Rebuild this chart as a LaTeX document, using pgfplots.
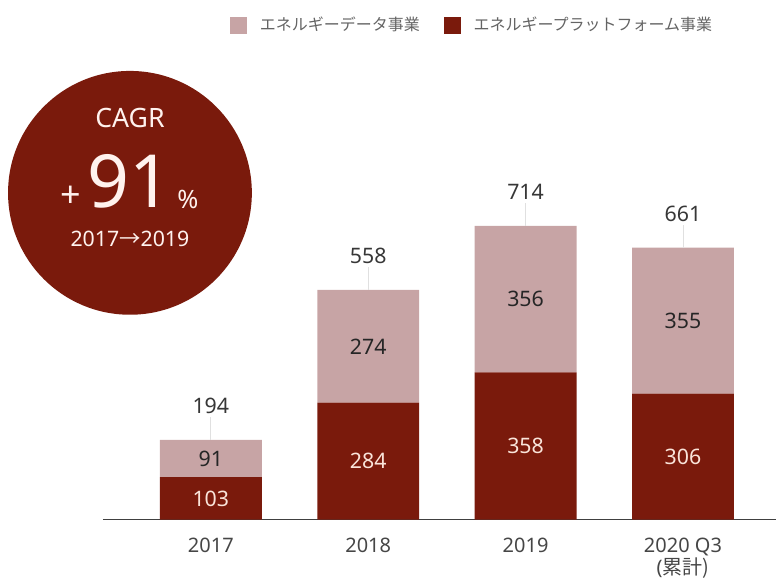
\documentclass[border=0pt]{standalone}
\usepackage{pgfplots}
\usepackage{pgfplotstable}
\pgfplotsset{compat=1.18}
\usepackage{fontspec}
\setmainfont{Noto Sans}
\newfontfamily\jp{Noto Sans CJK JP}
\definecolor{dred}{RGB}{122,26,12}
\definecolor{lred}{RGB}{199,164,165}
\definecolor{inlab}{RGB}{250,228,218}
\definecolor{toplab}{RGB}{55,55,55}
\definecolor{legtxt}{RGB}{100,100,100}
\definecolor{ticktxt}{RGB}{70,70,70}
\definecolor{circtxt}{RGB}{255,242,238}

\pgfplotstableread{
x v
0 103
1 284
2 358
3 306
}\platform
\pgfplotstableread{
x v
0 91
1 274
2 356
3 355
}\data
\pgfplotstableread{
x y e t
0 194 56 194
1 558 56 558
2 714 56 714
3 661 56 661
}\totals

\pgfplotsset{common/.style={
  scale only axis, width=505.5pt, height=390pt,
  xmin=-0.6857, xmax=3.5937, ymin=0, ymax=1262.8,
  /pgf/number format/assume math mode=true,
  clip=false}}

\begin{document}
\begin{tikzpicture}
\begin{axis}[common,
  axis x line*=bottom, axis y line=none,
  x axis line style={draw=black!75, line width=0.9pt, -},
  ybar stacked, bar width=76.5pt,
  xtick={0,1,2,3},
  xticklabels={2017,2018,2019,{2020 Q3\\(\jp 累計)}},
  major tick length=0pt,
  xticklabel style={align=center, text=ticktxt, font=\fontsize{15}{17}\selectfont, yshift=-10pt},
  ytick=\empty,
  legend style={at={(0.1884,0.952)}, anchor=west, draw=none, fill=none,
    legend columns=2, inner sep=0pt,
    font=\jp\fontsize{12}{14}\selectfont, text=legtxt,
    /tikz/every even column/.append style={column sep=16pt}},
]
\addlegendimage{legend image code/.code={\fill[lred] (0pt,-6pt) rectangle (12pt,6pt);}}
\addlegendentry{\hspace{8pt}エネルギーデータ事業}
\addlegendimage{legend image code/.code={\fill[dred] (0pt,-6pt) rectangle (12pt,6pt);}}
\addlegendentry{\hspace{8pt}エネルギープラットフォーム事業}

\addplot[fill=dred, draw=none, forget plot,
  point meta=explicit, nodes near coords,
  every node near coord/.append style={anchor=center,
    text=inlab, font=\fontsize{16}{18}\selectfont}]
  table[x=x, y=v, meta=v] {\platform};
\addplot[fill=lred, draw=none, forget plot,
  point meta=explicit, nodes near coords,
  every node near coord/.append style={anchor=center,
    text=black!85, font=\fontsize{16}{18}\selectfont}]
  table[x=x, y=v, meta=v] {\data};

\coordinate (cc) at (axis cs:-0.514,794.1);
\coordinate (c1) at (axis cs:-0.514,976.3);
\coordinate (c2) at (axis cs:-0.52,822);
\coordinate (c3) at (axis cs:-0.888,784);
\coordinate (c4) at (axis cs:-0.146,777);
\coordinate (c5) at (axis cs:-0.514,682.4);
\path (axis cs:-1.3397,-136) rectangle (axis cs:3.5937,1262.8);
\end{axis}

\begin{axis}[common, hide axis]
\addplot[draw=none, mark=none,
  point meta=explicit symbolic, nodes near coords,
  every node near coord/.append style={anchor=center, yshift=25.5pt,
    text=toplab, font=\fontsize{16}{18}\selectfont},
  error bars/.cd, y dir=plus, y explicit, error mark=none,
  error bar style={draw=black!12, line width=0.7pt}]
  table[x=x, y=y, y error plus=e, meta=t] {\totals};
\end{axis}

% CAGR badge
\fill[dred] (cc) circle[radius=91.5pt];
\begin{scope}[every node/.style={inner sep=0pt, text=circtxt}]
\node[font=\fontsize{20}{22}\selectfont] at (c1) {CAGR};
\node[font=\fontsize{55}{56}\selectfont] at (c2) {91};
\node[font=\fontsize{27}{28}\selectfont] at (c3) {+};
\node[font=\fontsize{19}{20}\selectfont] at (c4) {\%};
\node[font=\fontsize{16}{18}\selectfont] at (c5) {2017{\jp →}2019};
\end{scope}
\end{tikzpicture}
\end{document}
